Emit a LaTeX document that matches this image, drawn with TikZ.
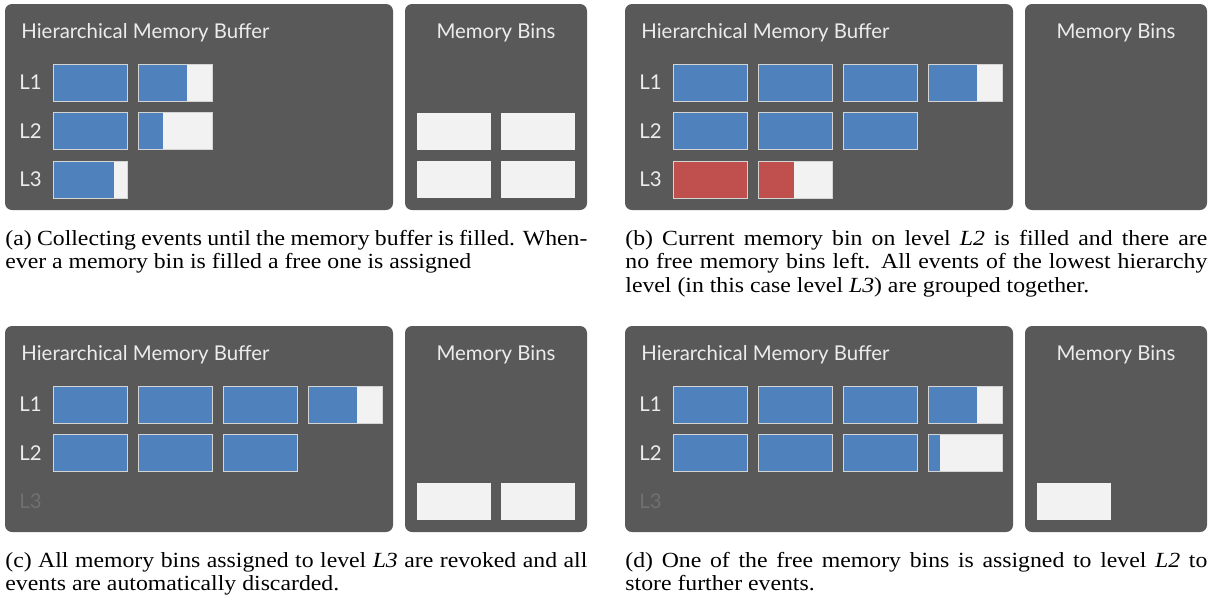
\documentclass[tikz,border=0pt]{standalone}
\usepackage{fontspec}
\setmainfont{Liberation Serif}
\newfontfamily\capfont{Liberation Serif}[FakeStretch=1.1]
\newfontfamily\lightsans{Lato}
\definecolor{panelbg}{HTML}{595959}
\definecolor{boxbg}{HTML}{F2F2F2}
\definecolor{boxline}{HTML}{D4D4D4}
\definecolor{evblue}{HTML}{4F81BD}
\definecolor{evred}{HTML}{C0504D}
\definecolor{textwhite}{HTML}{ECECEC}
\definecolor{dimtext}{HTML}{707070}
\tikzset{
  panel/.style={fill=panelbg, rounded corners=3.5pt},
  paneltext/.style={font=\lightsans\fontsize{10.2}{12}\selectfont, text=textwhite, inner sep=0pt},
  dimlabel/.style={paneltext, text=dimtext},
  captext/.style={font=\capfont\fontsize{10.8}{11.7}\selectfont, text width=291pt, align=justify, inner sep=0pt, anchor=north west},
  freebin/.style={fill=boxbg},
}
% #1 x, #2 y (top), #3 filled width (px of 74), #4 colour
\newcommand\membox[4]{%
  \fill[boxbg] (#1,#2) rectangle ++(74,37);
  \fill[#4] (#1,#2) rectangle ++(#3,37);
  \draw[boxline, line width=0.5pt] (#1,#2) rectangle ++(74,37);
}
\newcommand\panels[1]{%
  \fill[panel] (5,4) rectangle (393,210);
  \fill[panel] (405,4) rectangle (587,210);
  \node[paneltext, anchor=base west] (title#1) at (21,38.3) {Hierarchical Memory Buffer};
  \node[paneltext, anchor=base] (bins#1) at (496,38.5) {Memory Bins};
  \node[paneltext, anchor=west] (la#1) at (19,82.5) {L1};
  \node[paneltext, anchor=west] (lb#1) at (19,131) {L2};
}
\begin{document}
\begin{tikzpicture}[x=0.5pt, y=-0.5pt]
\useasboundingbox (0,0) rectangle (1211,606);

% ---------- (a) ----------
\begin{scope}
  \panels{a}
  \node[paneltext, anchor=west] (lca) at (19,179.5) {L3};
  \membox{53}{64}{74}{evblue}
  \membox{138}{64}{49}{evblue}
  \membox{53}{112.5}{74}{evblue}
  \membox{138}{112.5}{25}{evblue}
  \membox{53}{161}{61}{evblue}
  \fill[freebin] (416.7,112.5) rectangle ++(74,37);
  \fill[freebin] (501.3,112.5) rectangle ++(74,37);
  \fill[freebin] (416.7,161) rectangle ++(74,37);
  \fill[freebin] (501.3,161) rectangle ++(74,37);
  \node[captext] (capa) at (5,228.6) {\strut(a) Collecting events until the memory buffer is filled. When-\linebreak ever a memory bin is filled a free one is assigned};
\end{scope}

% ---------- (b) ----------
\begin{scope}[shift={(620,0)}]
  \panels{b}
  \node[paneltext, anchor=west] (lcb) at (19,179.5) {L3};
  \membox{53}{64}{74}{evblue}
  \membox{138}{64}{74}{evblue}
  \membox{223}{64}{74}{evblue}
  \membox{308}{64}{49}{evblue}
  \membox{53}{112.5}{74}{evblue}
  \membox{138}{112.5}{74}{evblue}
  \membox{223}{112.5}{74}{evblue}
  \membox{53}{161}{74}{evred}
  \membox{138}{161}{36}{evred}
  \node[captext] (capb) at (5,228.6) {\strut(b) Current memory bin on level \textit{L2} is filled and there are\linebreak no free memory bins left. All events of the lowest hierarchy\linebreak level (in this case level \textit{L3}) are grouped together.};
\end{scope}

% ---------- (c) ----------
\begin{scope}[shift={(0,322)}]
  \panels{c}
  \node[dimlabel, anchor=west] (lcc) at (19,179.5) {L3};
  \membox{53}{64}{74}{evblue}
  \membox{138}{64}{74}{evblue}
  \membox{223}{64}{74}{evblue}
  \membox{308}{64}{49}{evblue}
  \membox{53}{112.5}{74}{evblue}
  \membox{138}{112.5}{74}{evblue}
  \membox{223}{112.5}{74}{evblue}
  \fill[freebin] (416.7,161) rectangle ++(74,37);
  \fill[freebin] (501.3,161) rectangle ++(74,37);
  \node[captext] (capc) at (5,228.6) {\strut(c) All memory bins assigned to level \textit{L3} are revoked and all\linebreak events are automatically discarded.};
\end{scope}

% ---------- (d) ----------
\begin{scope}[shift={(620,322)}]
  \panels{d}
  \node[dimlabel, anchor=west] (lcd) at (19,179.5) {L3};
  \membox{53}{64}{74}{evblue}
  \membox{138}{64}{74}{evblue}
  \membox{223}{64}{74}{evblue}
  \membox{308}{64}{49}{evblue}
  \membox{53}{112.5}{74}{evblue}
  \membox{138}{112.5}{74}{evblue}
  \membox{223}{112.5}{74}{evblue}
  \membox{308}{112.5}{12}{evblue}
  \fill[freebin] (416.7,161) rectangle ++(74,37);
  \node[captext] (capd) at (5,228.6) {\strut(d) One of the free memory bins is assigned to level \textit{L2} to\linebreak store further events.};
\end{scope}
\end{tikzpicture}
\end{document}
